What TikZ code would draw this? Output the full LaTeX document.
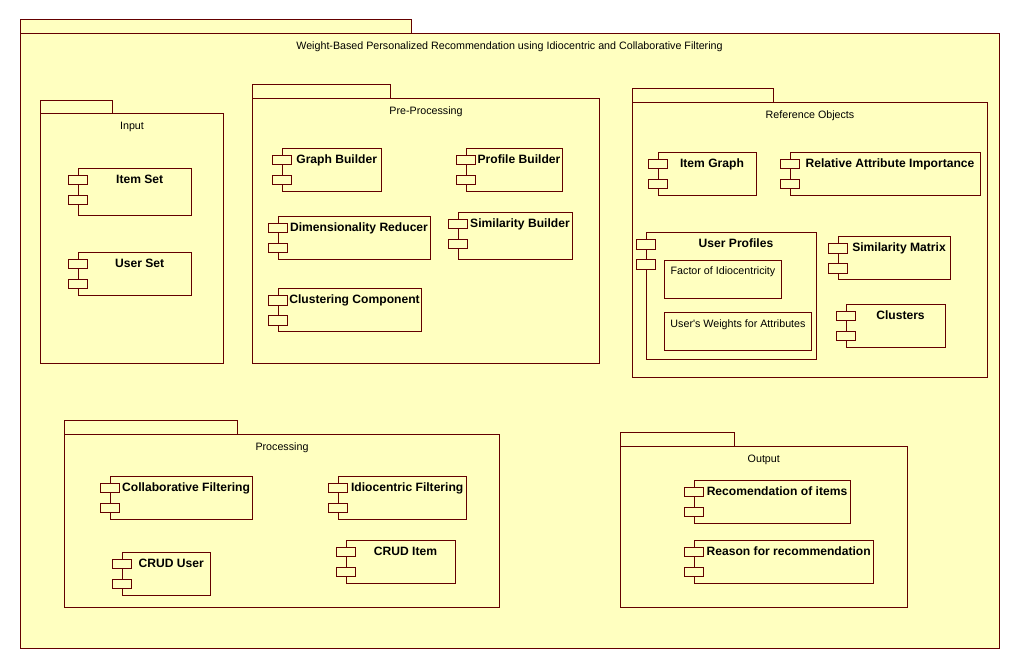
\documentclass[tikz,border=0pt]{standalone}
\usepackage{fontspec}
\newfontfamily\uifont{Liberation Sans}
\definecolor{pkgline}{RGB}{100,0,0}
\definecolor{pkgfill}{RGB}{255,255,192}
\tikzset{
  box/.style={draw=pkgline, fill=pkgfill, line width=1pt, inner sep=0pt, outer sep=0pt, anchor=north west},
  port/.style={box, minimum width=19.4, minimum height=9.4},
  ttl/.style={font=\uifont\fontsize{10.7}{13}\selectfont, anchor=base, inner sep=0pt, text=black},
  cttl/.style={ttl, font=\uifont\fontsize{12.1}{14}\selectfont\bfseries},
}
% package: name, x1, tab x2, tab top, body top, x2, y2, title
\newcommand\pkgbox[8]{%
  \node[box, minimum width={#3-#2}, minimum height={#5-#4}] (#1-tab) at (#2,#4) {};
  \node[box, minimum width={#6-#2}, minimum height={#7-#5}] (#1) at (#2,#5) {};
  \node[ttl] (#1-title) at ({(#2+#6)/2},{#5+16}) {#8};
}
% component: name, x1, y1, x2, y2, label
\newcommand\cmpbox[6]{%
  \node[box, minimum width={#4-#2}, minimum height={#5-#3}] (#1) at (#2,#3) {};
  \node[port] (#1-p1) at ({#2-10},{#3+7}) {};
  \node[port] (#1-p2) at ({#2-10},{#3+27}) {};
  \node[cttl] (#1-label) at ({(#2+9.4+#4)/2},{#3+15.3}) {#6};
}
\begin{document}
\begin{tikzpicture}[x=1pt, y=-1pt]
\useasboundingbox[fill=white] (0,0) rectangle (1020,668);
% outer
\pkgbox{main}{20}{411}{20}{34}{999}{648}{Weight-Based Personalized Recommendation using Idiocentric and Collaborative Filtering}
% Input
\pkgbox{input}{40.3}{112.3}{100.3}{114}{223.7}{363.3}{Input}
\cmpbox{itemset}{78.3}{168.3}{191.7}{215.3}{Item Set}
\cmpbox{userset}{78.3}{252.3}{191.7}{295.3}{User Set}
% Pre-processing
\pkgbox{pre}{252.7}{390.3}{84.3}{98.3}{599.3}{363.3}{Pre-Processing}
\cmpbox{graphb}{282.3}{148.3}{381.7}{191.3}{Graph Builder}
\cmpbox{profb}{466.3}{148.3}{562.3}{191.3}{Profile Builder}
\cmpbox{dimred}{278.3}{216.3}{430.3}{259.3}{Dimensionality Reducer}
\cmpbox{simb}{458.3}{212.3}{572.3}{259.3}{Similarity Builder}
\cmpbox{clust}{278.3}{288.7}{421.3}{331.3}{Clustering Component}
% Reference objects
\pkgbox{ref}{632.3}{773.3}{88.3}{102.3}{987.7}{377.7}{Reference Objects}
\cmpbox{itemg}{658.3}{152.3}{756.3}{195.3}{Item Graph}
\cmpbox{rai}{790.3}{152.3}{980.3}{195.3}{Relative Attribute Importance}
\cmpbox{uprof}{646.3}{232.7}{816.3}{359}{User Profiles}
\node[box, minimum width=117.4, minimum height=37.6] (foi) at (664.3,260.7) {};
\node[ttl] (foi-label) at (723,275) {Factor of Idiocentricity};
\node[box, minimum width=147.4, minimum height=37.7] (uwa) at (664.3,312.3) {};
\node[ttl] (uwa-label) at (738,327) {User's Weights for Attributes};
\cmpbox{simm}{838.3}{236.7}{950.3}{279.3}{Similarity Matrix}
\cmpbox{clusters}{846.3}{304.3}{945.3}{347.3}{Clusters}
% Processing
\pkgbox{proc}{64.3}{237.7}{420.3}{434.3}{499.7}{607.3}{Processing}
\cmpbox{collab}{110}{476.3}{252.7}{519.3}{Collaborative Filtering}
\cmpbox{idio}{338.3}{476.3}{466.7}{519.3}{Idiocentric Filtering}
\cmpbox{cruduser}{122.3}{552.3}{210.7}{595.3}{CRUD User}
\cmpbox{cruditem}{346.3}{540.3}{455.3}{583.3}{CRUD Item}
% Output
\pkgbox{out}{620.3}{734.3}{432.3}{446.3}{907.3}{607}{Output}
\cmpbox{recom}{694.3}{480.3}{850.3}{523.3}{Recomendation of items}
\cmpbox{reason}{694.3}{540.3}{873.7}{583.3}{Reason for recommendation}
\end{tikzpicture}
\end{document}
